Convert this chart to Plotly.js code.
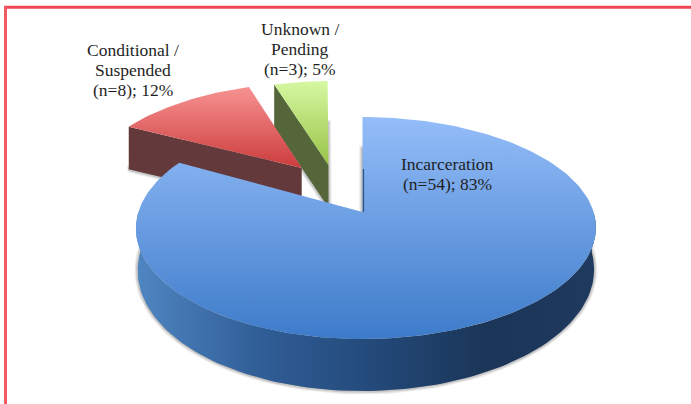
<!DOCTYPE html>
<html><head><meta charset="utf-8">
<script src="https://cdn.plot.ly/plotly-3.0.1.min.js"></script>
<style>html,body{margin:0;padding:0;background:#fff;overflow:hidden}#c{width:691px;height:404px}</style>
</head><body><div id="c"></div>
<script>
// ---- data ----
const categories = ["Incarceration", "Conditional / Suspended", "Unknown / Pending"];
const counts = [54, 8, 3];
const percents = [83, 12, 5];
const labelLines = [
  ["Incarceration", "(n=54); 83%"],
  ["Conditional /", "Suspended", "(n=8); 12%"],
  ["Unknown /", "Pending", "(n=3); 5%"]
];

// ---- projection of the tilted disc (styling of the 3D look) ----
const W = 691, H = 404;
const CX = 366, APEX_Y = 212, RX = 227.6, RY = 108.7, K = 0.1442;
const FLOOR_Y = 252.6, FLOOR_RY = 118.5, PULLED_DEPTH = 42.5;
const pulls = [[0, 0], [-0.285, 0.43], [-0.16, 0.46]];
const rotate = [0, -2, -1.5];
const labelAnchor = [[447, 164], [133, 50], [300, 29]];
const LINE_STEP = 20;

function warp(u) { const c = Math.min(u * u, 1); return -3.5 * (1 - c); }
function topPt(u, v) {
  const w = 1 + K * v;
  return [CX + warp(u) + RX * u / w, APEX_Y - RY * v / w];
}
function floorPt(u, v, i) {
  if (i > 0) { const p = topPt(u, v); return [p[0], p[1] + PULLED_DEPTH]; }
  const w = 1 + K * v;
  return [CX + warp(u) + 0.992 * RX * u / w, FLOOR_Y - FLOOR_RY * v / w];
}

const total = counts.reduce((a, b) => a + b, 0);
const sweeps = counts.map(c => c / total * 360);
let start = 0;
const slices = counts.map((c, i) => {
  const s = start + rotate[i], e = start + sweeps[i] + rotate[i];
  start += sweeps[i];
  return { s, e };
});

function arc(i, s, e) {
  const n = Math.max(4, Math.ceil(Math.abs(e - s) / 1.5));
  const out = [];
  for (let j = 0; j <= n; j++) {
    const a = (s + (e - s) * j / n) * Math.PI / 180;
    out.push([Math.sin(a) + pulls[i][0], Math.cos(a) + pulls[i][1]]);
  }
  return out;
}
function wedge(i, fn) {
  const pts = [[pulls[i][0], pulls[i][1]]].concat(arc(i, slices[i].s, slices[i].e));
  pts.push([pulls[i][0], pulls[i][1]]);
  return pts.map(p => fn(p[0], p[1], i));
}
function poly(pts, extra) {
  return Object.assign({
    type: "scatter", mode: "lines", x: pts.map(p => p[0]), y: pts.map(p => p[1]),
    fill: "toself", line: { width: 0 }, hoverinfo: "skip", showlegend: false
  }, extra);
}
function grad(type, stops) {
  return { fillgradient: { type: type, colorscale: stops }, fillcolor: stops[0][1] };
}
function shadow(i) {
  const pts = wedge(i, floorPt);
  return [[7, 0.10], [5, 0.14], [3, 0.22]].map(l => poly(pts, {
    fillcolor: "rgba(110,110,110," + l[1] + ")",
    line: { width: l[0], color: "rgba(110,110,110," + l[1] + ")" }
  }));
}

// side wall along one straight edge
function straightSide(i, a, b, fill) {
  const pts = [topPt(a[0], a[1]), topPt(b[0], b[1]), floorPt(b[0], b[1], i), floorPt(a[0], a[1], i)];
  pts.push(pts[0]);
  return poly(pts, { fillcolor: fill });
}
function edgeEnd(i, deg) {
  const a = deg * Math.PI / 180;
  return [Math.sin(a) + pulls[i][0], Math.cos(a) + pulls[i][1]];
}

const traces = [];
traces.push(...shadow(0), ...shadow(1), ...shadow(2));

// green (gradient stops run bottom to top because the y axis is reversed)
traces.push(straightSide(2, edgeEnd(2, slices[2].s), pulls[2], "#55663a"));
traces.push(poly(wedge(2, topPt), grad("vertical", [[0, "#97c346"], [1, "#d6f8a2"]])));
// red
traces.push(straightSide(1, edgeEnd(1, slices[1].s), pulls[1], "#63393b"));
traces.push(poly(wedge(1, topPt), grad("vertical", [[0, "#cc3c3c"], [1, "#f79292"]])));
// blue rim
const rim = arc(0, 90, 270);
const rimTop = rim.map(p => topPt(p[0], p[1]));
const rimBottom = rim.map(p => floorPt(p[0], p[1], 0)).reverse();
const rimPts = rimTop.concat(rimBottom);
rimPts.push(rimTop[0]);
traces.push(poly(rimPts, grad("horizontal", [
  [0, "#4f86c2"], [0.26, "#315f98"], [0.5, "#244b7c"], [0.76, "#1a3557"], [1, "#1f3a5f"]
])));
// blue top
traces.push(poly(wedge(0, topPt), grad("vertical", [[0, "#3d7bc9"], [1, "#94bdf9"]])));
// thin cut wall of the big slice
const wallA = topPt(0, 0.42), wallB = topPt(0, 0);
traces.push({
  type: "scatter", mode: "lines", x: [wallA[0] + 1, wallB[0] + 1], y: [wallA[1], wallB[1]],
  line: { width: 1.2, color: "#2c5488" }, hoverinfo: "skip", showlegend: false
});

const annotations = [];
labelLines.forEach((lines, i) => lines.forEach((t, j) => annotations.push({
  xref: "x", yref: "y", x: labelAnchor[i][0], y: labelAnchor[i][1] + j * LINE_STEP,
  text: t, showarrow: false, xanchor: "center", yanchor: "middle",
  font: { family: "'Liberation Serif', serif", size: 17.5, color: "#1f1f1f" }
})));

const hidden = { visible: false, fixedrange: true };
Plotly.newPlot("c", traces, {
  width: W, height: H, margin: { l: 0, r: 0, t: 0, b: 0, pad: 0 },
  paper_bgcolor: "#fff", plot_bgcolor: "#fff", showlegend: false,
  xaxis: Object.assign({ range: [0, W] }, hidden),
  yaxis: Object.assign({ range: [H, 0] }, hidden),
  annotations: annotations,
  shapes: [
    { type: "line", xref: "x", yref: "y", x0: 4, x1: W, y0: 7.3, y1: 7.3, line: { color: "#ef4653", width: 3 } },
    { type: "line", xref: "x", yref: "y", x0: 5.5, x1: 5.5, y0: 6, y1: H, line: { color: "#f25a63", width: 3 } }
  ]
}, { displayModeBar: false, staticPlot: true });
</script></body></html>
